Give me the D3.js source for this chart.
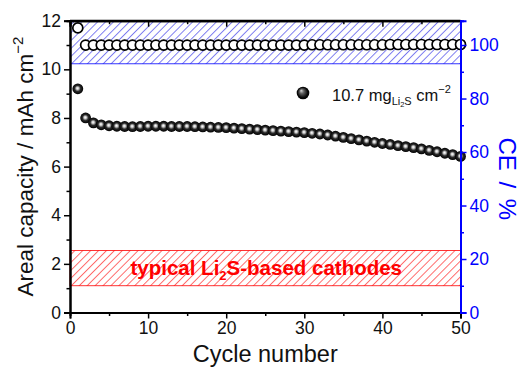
<!DOCTYPE html>
<html>
<head>
<meta charset="utf-8">
<script src="https://cdn.jsdelivr.net/npm/d3@7"></script>
<style>
  html, body { margin: 0; padding: 0; background: #fff; }
  svg { display: block; font-family: "Liberation Sans", Arial, sans-serif; }
</style>
</head>
<body>
<svg id="chart" width="521" height="368"></svg>
<script>
// Cycle index
const cycles = d3.range(1, 51);

// Areal discharge capacity (mAh cm^-2) per cycle
const capacity = [
  9.20, 8.00, 7.80, 7.72, 7.68, 7.66, 7.65, 7.64, 7.65, 7.66,
  7.66, 7.66, 7.65, 7.65, 7.65, 7.64, 7.63, 7.62, 7.61, 7.60,
  7.58, 7.56, 7.54, 7.52, 7.50, 7.48, 7.46, 7.44, 7.42, 7.40,
  7.37, 7.34, 7.30, 7.25, 7.20, 7.15, 7.10, 7.05, 7.00, 6.95,
  6.91, 6.86, 6.82, 6.78, 6.73, 6.67, 6.61, 6.55, 6.49, 6.42
];

// Coulombic efficiency (%) per cycle
const ce = [
  106.4, 100.0, 100.0, 100.0, 100.0, 100.0, 100.0, 100.0, 100.0, 100.0,
  100.0, 100.0, 100.0, 100.0, 100.0, 100.0, 100.0, 100.0, 100.0, 100.0,
  100.0, 100.0, 100.0, 100.0, 100.0, 100.0, 100.0, 100.0, 100.0, 100.0,
  100.1, 100.1, 100.1, 100.1, 100.1, 100.1, 100.1, 100.1, 100.1, 100.1,
  100.2, 100.2, 100.2, 100.2, 100.2, 100.2, 100.2, 100.2, 100.2, 100.2
];

// Shaded reference ranges
const ceBand = [93, 109.1];          // CE range (%)
const typicalBand = [1.1, 2.55];     // typical Li2S cathode capacity (mAh cm^-2)

// Axis ticks
const xMajor = [0, 10, 20, 30, 40, 50];
const xMinor = [5, 15, 25, 35, 45];
const yMajor = [0, 2, 4, 6, 8, 10, 12];
const yMinor = [1, 3, 5, 7, 9, 11];
const ceMajor = [0, 20, 40, 60, 80, 100];
const ceMinor = [10, 30, 50, 70, 90];

const W = 521, H = 368;
const m = { left: 70, right: 60.5, top: 20.7, bottom: 55.5 };
const svg = d3.select("#chart");

const x = d3.scaleLinear().domain([0, 50]).range([m.left, W - m.right]);
const y = d3.scaleLinear().domain([0, 12]).range([H - m.bottom, m.top]);
const yCE = d3.scaleLinear().domain([0, 109.1]).range([H - m.bottom, m.top]);

const BLUE = "#0000ff";
const RED = "#ff0000";

// Hatch patterns
const defs = svg.append("defs");
function hatch(id, color, width) {
  const s = 5.6;
  const p = defs.append("pattern")
    .attr("id", id).attr("patternUnits", "userSpaceOnUse")
    .attr("width", s).attr("height", s)
    .attr("patternTransform", "rotate(45)");
  p.append("line").attr("x1", 0.5).attr("y1", 0).attr("x2", 0.5).attr("y2", s)
    .attr("stroke", color).attr("stroke-width", width);
}
hatch("hatchBlue", "#6f6fee", 0.9);
hatch("hatchRed", "#ff5c5c", 0.9);

// Sphere shading for capacity markers
const grad = defs.append("radialGradient").attr("id", "sphere")
  .attr("cx", "50%").attr("cy", "50%").attr("r", "50%")
  .attr("fx", "46%").attr("fy", "44%");
grad.append("stop").attr("offset", "0%").attr("stop-color", "#ffffff");
grad.append("stop").attr("offset", "22%").attr("stop-color", "#cfcfcf");
grad.append("stop").attr("offset", "55%").attr("stop-color", "#2a2a2a");
grad.append("stop").attr("offset", "100%").attr("stop-color", "#000");

const legGrad = defs.append("radialGradient").attr("id", "sphereLeg")
  .attr("cx", "50%").attr("cy", "50%").attr("r", "50%")
  .attr("fx", "35%").attr("fy", "30%");
legGrad.append("stop").attr("offset", "0%").attr("stop-color", "#d8d8d8");
legGrad.append("stop").attr("offset", "35%").attr("stop-color", "#606060");
legGrad.append("stop").attr("offset", "80%").attr("stop-color", "#080808");
legGrad.append("stop").attr("offset", "100%").attr("stop-color", "#000");

// CE band (blue)
svg.append("rect")
  .attr("x", x(0)).attr("width", x(50) - x(0))
  .attr("y", yCE(ceBand[1])).attr("height", yCE(ceBand[0]) - yCE(ceBand[1]))
  .attr("fill", "url(#hatchBlue)");
svg.append("line")
  .attr("x1", x(0)).attr("x2", x(50))
  .attr("y1", yCE(ceBand[0])).attr("y2", yCE(ceBand[0]))
  .attr("stroke", BLUE).attr("stroke-width", 0.8);

// Typical capacity band (red)
svg.append("rect")
  .attr("x", x(0)).attr("width", x(50) - x(0))
  .attr("y", y(typicalBand[1])).attr("height", y(typicalBand[0]) - y(typicalBand[1]))
  .attr("fill", "url(#hatchRed)")
  .attr("stroke", RED).attr("stroke-width", 0.8);

// Band label
const lbl = svg.append("text")
  .attr("x", (x(0) + x(50)) / 2 + 1)
  .attr("y", (y(typicalBand[0]) + y(typicalBand[1])) / 2 + 6.5)
  .attr("text-anchor", "middle")
  .attr("font-size", 20.5).attr("font-weight", "bold").attr("fill", RED);
lbl.append("tspan").text("typical Li");
lbl.append("tspan").attr("font-size", 13).attr("dy", 5).text("2");
lbl.append("tspan").attr("dy", -5).text("S-based cathodes");

// CE markers (open circles)
svg.append("g").selectAll("circle")
  .data(cycles)
  .join("circle")
  .attr("cx", (c) => x(c))
  .attr("cy", (c, i) => yCE(ce[i]))
  .attr("r", 5)
  .attr("fill", "#fff")
  .attr("stroke", "#000").attr("stroke-width", 1.7);

// Capacity markers (shaded spheres)
svg.append("g").selectAll("circle")
  .data(cycles)
  .join("circle")
  .attr("cx", (c) => x(c))
  .attr("cy", (c, i) => y(capacity[i]))
  .attr("r", 5.4)
  .attr("fill", "url(#sphere)");

// Axes
svg.append("g").attr("transform", `translate(${m.left},0)`)
  .call(d3.axisLeft(y).tickValues(yMajor).tickSize(6).tickPadding(3).tickFormat(d3.format("d")));
svg.append("g").attr("transform", `translate(${m.left},0)`)
  .call(d3.axisLeft(y).tickValues(yMinor).tickSize(3.5).tickFormat(""));

svg.append("g").attr("transform", `translate(0,${H - m.bottom})`)
  .call(d3.axisBottom(x).tickValues(xMajor).tickSize(6).tickPadding(3).tickFormat(d3.format("d")));
svg.append("g").attr("transform", `translate(0,${H - m.bottom})`)
  .call(d3.axisBottom(x).tickValues(xMinor).tickSize(3.5).tickFormat(""));

// Top frame with inward ticks
svg.append("g").attr("transform", `translate(0,${m.top})`)
  .call(d3.axisBottom(x).tickValues(xMajor).tickSize(6).tickFormat(""));
svg.append("g").attr("transform", `translate(0,${m.top})`)
  .call(d3.axisBottom(x).tickValues(xMinor).tickSize(3.5).tickFormat(""));

svg.append("g").attr("class", "ce-axis").attr("transform", `translate(${W - m.right},0)`)
  .call(d3.axisRight(yCE).tickValues(ceMajor).tickSize(6).tickPadding(3).tickFormat(d3.format("d")));
svg.append("g").attr("class", "ce-axis").attr("transform", `translate(${W - m.right},0)`)
  .call(d3.axisRight(yCE).tickValues(ceMinor).tickSize(3.5).tickFormat(""));

svg.selectAll(".domain").attr("stroke-width", 2);
svg.selectAll(".tick line").attr("stroke-width", 1.5);
svg.selectAll(".tick text").attr("font-size", 17.5).attr("font-family", "Liberation Sans, Arial, sans-serif").attr("fill", "#111");
svg.selectAll(".ce-axis .domain, .ce-axis .tick line").attr("stroke", BLUE);
svg.selectAll(".ce-axis .tick text").attr("fill", BLUE);

// Keep the top frame a plain line across the plot
svg.append("line").attr("x1", m.left).attr("x2", W - m.right)
  .attr("y1", m.top).attr("y2", m.top).attr("stroke", "#000").attr("stroke-width", 2);
svg.selectAll(".ce-axis").raise();

// Axis titles
svg.append("text")
  .attr("x", (x(0) + x(50)) / 2).attr("y", 362)
  .attr("text-anchor", "middle").attr("font-size", 23.5).attr("fill", "#111")
  .text("Cycle number");

const yt = svg.append("text")
  .attr("transform", `translate(33,${(y(0) + y(12)) / 2}) rotate(-90)`)
  .attr("text-anchor", "middle").attr("font-size", 22.5).attr("fill", "#111");
yt.append("tspan").text("Areal capacity / mAh cm");
yt.append("tspan").attr("font-size", 15).attr("dy", -10).text("\u22122");

svg.append("text")
  .attr("transform", `translate(499,${(yCE(0) + yCE(100)) / 2}) rotate(90)`)
  .attr("text-anchor", "middle").attr("font-size", 24).attr("fill", BLUE)
  .attr("word-spacing", 4)
  .text("CE / %");

// Legend
svg.append("circle").attr("cx", 303).attr("cy", 93).attr("r", 6.3).attr("fill", "url(#sphereLeg)");
const leg = svg.append("text").attr("x", 332).attr("y", 101)
  .attr("font-size", 16.5).attr("fill", "#111");
leg.append("tspan").text("10.7 mg");
leg.append("tspan").attr("font-size", 11).attr("dy", 4).text("Li");
leg.append("tspan").attr("font-size", 7.5).attr("dy", 2).text("2");
leg.append("tspan").attr("font-size", 11).attr("dy", -2).text("S");
leg.append("tspan").attr("dy", -4).text(" cm");
leg.append("tspan").attr("font-size", 11).attr("dy", -8).text("\u22122");
</script>
</body>
</html>
